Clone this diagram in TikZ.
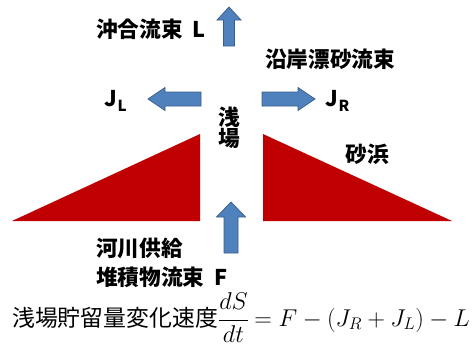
\documentclass[tikz,border=0pt]{standalone}
\usepackage{fontspec}
\newfontfamily\cjk{Noto Sans CJK JP}
\definecolor{fluxblue}{RGB}{79,129,189}
\definecolor{fluxedge}{RGB}{56,93,138}
\definecolor{beachred}{RGB}{192,0,0}
\tikzset{
  lbl/.style={font=\cjk\bfseries\fontsize{18.5}{20}\selectfont,inner sep=0pt},
  pics/fluxarr/.style n args={4}{code={
    \filldraw[fill=fluxblue,draw=fluxedge,line width=0.6pt,line join=miter]
      (0,-#3) -- (#1-#2,-#3) -- (#1-#2,-#4) -- (#1,0) -- (#1-#2,#4)
      -- (#1-#2,#3) -- (0,#3) -- cycle;}}
}
\begin{document}
\begin{tikzpicture}[x=0.03cm,y=-0.03cm,line cap=round,line join=round]
  \useasboundingbox (0,0) rectangle (474,363);
  % beach profiles
  \fill[beachred] (12,221) -- (200,134) -- (200,221) -- cycle;
  \fill[beachred] (263,134) -- (263,221) -- (452,221) -- cycle;
  % fluxes
  \pic[rotate=90] at (229,46) {fluxarr={39}{13}{5.5}{12}};
  \pic[rotate=180] at (201,99) {fluxarr={53}{17}{7}{11.5}};
  \pic at (262,99) {fluxarr={53}{17}{7}{11.5}};
  \pic[rotate=90] at (231,253) {fluxarr={51}{15}{7}{14.5}};
  % labels
  \node[lbl,anchor=west] (offshore) at (96,29) {沖合流束\hspace{0.45em}L};
  \node[lbl,anchor=west] (longshore) at (265,59) {沿岸漂砂流束};
  \node[lbl] (jl) at (116,101) {J\textsubscript{L}};
  \node[lbl] (jr) at (338,101) {J\textsubscript{R}};
  \node[lbl,align=center] (shoal) at (229,128) {浅\\[-2pt]場};
  \node[lbl] (beach) at (367,154) {砂浜};
  \node[lbl,anchor=west] (river) at (96,248) {河川供給};
  \node[lbl,anchor=west] (sediment) at (96,277) {堆積物流束\hspace{0.45em}F};
  \node[anchor=west,inner sep=0pt,font=\cjk\fontsize{19.5}{24}\selectfont] (budget) at (12,318)
    {浅場貯留量変化速度$\displaystyle\frac{dS}{dt}\mskip-1mu=F-(J_R+J_L)-L$};
\end{tikzpicture}
\end{document}
